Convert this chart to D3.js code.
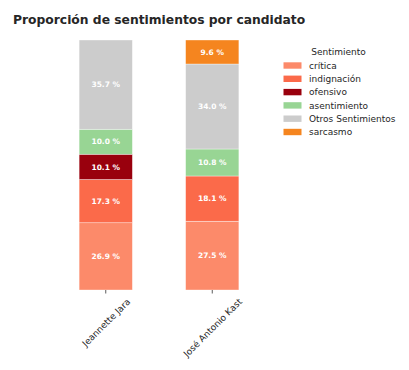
<!DOCTYPE html>
<html>
<head>
<meta charset="utf-8">
<script src="https://cdn.jsdelivr.net/npm/d3@7"></script>
<style>
  body { margin: 0; background: #fff; }
  svg { font-family: "DejaVu Sans", sans-serif; }
</style>
</head>
<body>
<main></main>
<script>
// Data
const candidates = ["Jeannette Jara", "José Antonio Kast"];
const sentiments = ["crítica", "indignación", "ofensivo", "asentimiento", "Otros Sentimientos", "sarcasmo"];
const colors = ["#fc8a6a", "#fb6a4a", "#99000d", "#98d594", "#cccccc", "#f5851f"];
const jaraValues = [26.9, 17.3, 10.1, 10.0, 35.7, 0];
const kastValues = [27.5, 18.1, 0, 10.8, 34.0, 9.6];

// Set dimensions
const w = 409;
const h = 370;

const svg = d3
  .select("main")
  .append("svg")
  .attr("width", w)
  .attr("height", h);

// Title
svg
  .append("text")
  .attr("x", 13)
  .attr("y", 24)
  .attr("font-size", 12.3)
  .attr("font-weight", "bold")
  .attr("fill", "#262626")
  .text("Proporción de sentimientos por candidato");

// Scales
const xScale = d3
  .scaleBand()
  .domain(candidates)
  .range([52.5, 265.5])
  .paddingInner(0.5)
  .paddingOuter(0.25);

const yScale = d3.scaleLinear().domain([0, 100]).range([290, 40]);

const color = d3.scaleOrdinal().domain(sentiments).range(colors);

// Stack data
const rows = candidates.map((c, i) => {
  const vals = i === 0 ? jaraValues : kastValues;
  const row = { candidate: c };
  sentiments.forEach((s, j) => (row[s] = vals[j]));
  return row;
});
const series = d3.stack().keys(sentiments)(rows);

const layers = svg
  .append("g")
  .selectAll("g")
  .data(series)
  .enter()
  .append("g")
  .attr("fill", (d) => color(d.key));

layers
  .selectAll("rect")
  .data((d) => d.filter((p) => p[1] - p[0] > 0))
  .enter()
  .append("rect")
  .attr("x", (d) => xScale(d.data.candidate))
  .attr("width", xScale.bandwidth())
  .attr("y", (d) => yScale(d[1]))
  .attr("height", (d) => yScale(d[0]) - yScale(d[1]))
  .attr("stroke", "rgba(255,255,255,0.6)")
  .attr("stroke-width", 0.6);

layers
  .selectAll("text")
  .data((d) => d.filter((p) => p[1] - p[0] > 0))
  .enter()
  .append("text")
  .attr("x", (d) => xScale(d.data.candidate) + xScale.bandwidth() / 2)
  .attr("y", (d) => yScale((d[0] + d[1]) / 2))
  .attr("dy", "0.35em")
  .attr("text-anchor", "middle")
  .attr("font-size", 7.5)
  .attr("font-weight", "bold")
  .attr("fill", "white")
  .text((d) => `${(d[1] - d[0]).toFixed(1)} %`);

// X axis (ticks only)
const xAxis = d3.axisBottom(xScale).tickSize(3.5).tickPadding(3);
const gx = svg
  .append("g")
  .attr("transform", `translate(0, ${yScale(0)})`)
  .call(xAxis);
gx.select(".domain").remove();
gx.selectAll(".tick line").attr("stroke", "#333").attr("stroke-width", 0.8);

// rotated labels centred under tick (matplotlib rotation=45, ha=center)
const fs = 9;
gx.selectAll(".tick text")
  .attr("font-size", fs)
  .attr("font-family", "DejaVu Sans, sans-serif")
  .attr("fill", "#262626")
  .attr("text-anchor", "middle")
  .attr("y", 0)
  .attr("dy", "0.35em")
  .each(function () {
    const len = this.getComputedTextLength();
    const half = ((len + fs * 1.1) * Math.SQRT1_2) / 2;
    const cy = 3.5 + 3 + half;
    d3.select(this).attr("transform", `translate(0.5, ${cy}) rotate(-45)`);
  });

// Legend
const legend = svg.append("g").attr("transform", "translate(283.5, 0)");

legend
  .append("text")
  .attr("x", 55)
  .attr("y", 55)
  .attr("text-anchor", "middle")
  .attr("font-size", 9)
  .attr("fill", "#262626")
  .text("Sentimiento");

const items = legend
  .selectAll(".item")
  .data(sentiments)
  .enter()
  .append("g")
  .attr("class", "item")
  .attr("transform", (d, i) => `translate(0, ${65.5 + i * 13.3})`);

items
  .append("rect")
  .attr("x", 0)
  .attr("y", -3.2)
  .attr("width", 18)
  .attr("height", 6.4)
  .attr("fill", (d) => color(d));

items
  .append("text")
  .attr("x", 25.5)
  .attr("y", 0)
  .attr("dy", "0.35em")
  .attr("font-size", 9)
  .attr("fill", "#262626")
  .text((d) => d);
</script>
</body>
</html>
